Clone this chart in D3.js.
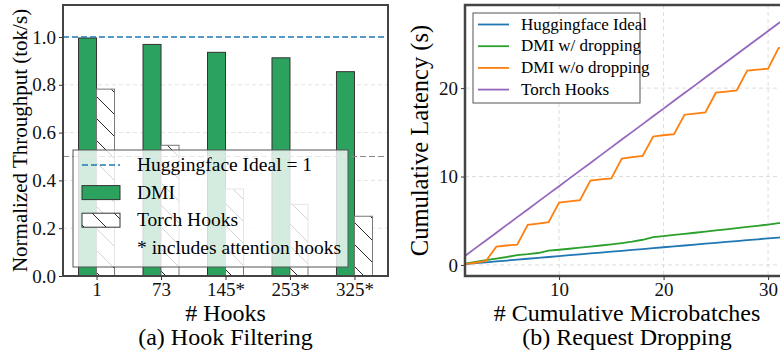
<!DOCTYPE html>
<html>
<head>
<meta charset="utf-8">
<script src="https://cdn.jsdelivr.net/npm/d3@7"></script>
<style>
  body { margin: 0; background: #fff; }
  svg { display: block; }
</style>
</head>
<body>
<div id="chart"></div>
<script>
// (a) Hook Filtering
const hookLabels = ["1", "73", "145*", "253*", "325*"];
const dmiThroughput = [0.996, 0.969, 0.936, 0.913, 0.855];
const torchThroughput = [0.782, 0.547, 0.364, 0.300, 0.250];
const leftYTicks = [0.0, 0.2, 0.4, 0.6, 0.8, 1.0];

// (b) Request Dropping
const microbatches = [1, 2, 3, 4, 5, 6, 7, 8, 9, 10, 11, 12, 13, 14, 15, 16,
  17, 18, 19, 20, 21, 22, 23, 24, 25, 26, 27, 28, 29, 30, 31, 32];
const hfIdeal = [0.10, 0.20, 0.30, 0.40, 0.50, 0.60, 0.70, 0.80, 0.90, 1.00, 1.10, 1.20,
  1.30, 1.40, 1.50, 1.60, 1.70, 1.80, 1.90, 2.00, 2.10, 2.20, 2.30, 2.40, 2.50, 2.60,
  2.70, 2.80, 2.90, 3.00, 3.10, 3.20];
const dmiDrop = [0.15, 0.35, 0.55, 0.72, 0.90, 1.12, 1.22, 1.35, 1.62, 1.72, 1.83, 1.95,
  2.07, 2.20, 2.33, 2.48, 2.63, 2.85, 3.15, 3.27, 3.40, 3.52, 3.64, 3.76, 3.90, 4.03,
  4.16, 4.30, 4.43, 4.57, 4.72, 4.86];
const dmiNoDrop = [0.10, 0.25, 0.45, 2.07, 2.20, 2.30, 4.53, 4.68, 4.83, 7.06, 7.19, 7.32,
  9.55, 9.68, 9.80, 12.04, 12.19, 12.34, 14.53, 14.67, 14.80, 16.99, 17.12, 17.25,
  19.48, 19.61, 19.74, 21.97, 22.09, 22.20, 24.54, 24.68];
const torchHooks = [1.02, 1.90, 2.77, 3.65, 4.53, 5.41, 6.28, 7.16, 8.04, 8.91, 9.79, 10.67,
  11.54, 12.42, 13.30, 14.18, 15.05, 15.93, 16.81, 17.68, 18.56, 19.44, 20.31, 21.19,
  22.07, 22.95, 23.82, 24.70, 25.58, 26.45, 27.33, 28.21];
const rightXTicks = [10, 20, 30];
const rightYTicks = [0, 10, 20];

const W = 780, H = 358;
const FONT = '"Liberation Serif"';
const svg = d3.select("#chart").append("svg").attr("width", W).attr("height", H);

const defs = svg.append("defs");
const hatch = defs.append("pattern")
  .attr("id", "hatch").attr("patternUnits", "userSpaceOnUse")
  .attr("width", 22).attr("height", 22);
hatch.append("rect").attr("width", 22).attr("height", 22).attr("fill", "#fff");
hatch.append("path")
  .attr("d", "M-2,-2L24,24M-2,20L2,24M20,-2L24,2")
  .attr("stroke", "#111").attr("stroke-width", 0.9);

const green = "#2ca25f";

// ---------- left panel ----------
const L = { left: 63, right: 388, top: 5, bottom: 276 };
const x0 = d3.scalePoint().domain(hookLabels).range([L.left, L.right]).padding(0.52);
const y0 = d3.scaleLinear().domain([0, 1.134]).range([L.bottom, L.top]);
const bw = 18;

const gl = svg.append("g");
gl.append("g").selectAll("line").data(leftYTicks.filter(d => d > 0 && d < 1))
  .join("line")
  .attr("x1", L.left).attr("x2", L.right)
  .attr("y1", d => y0(d)).attr("y2", d => y0(d))
  .attr("stroke", "#e3e3e3").attr("stroke-dasharray", "4,3");

gl.append("g").selectAll("rect").data(dmiThroughput).join("rect")
  .attr("x", (d, i) => x0(hookLabels[i]) - bw)
  .attr("y", d => y0(d)).attr("width", bw).attr("height", d => y0(0) - y0(d))
  .attr("fill", green).attr("stroke", "#333").attr("stroke-width", 1);

gl.append("g").selectAll("rect").data(torchThroughput).join("rect")
  .attr("x", (d, i) => x0(hookLabels[i]))
  .attr("y", d => y0(d)).attr("width", bw).attr("height", d => y0(0) - y0(d))
  .attr("fill", "url(#hatch)").attr("stroke", "#777").attr("stroke-width", 1);

// reference lines
gl.append("line").attr("x1", L.left).attr("x2", L.right)
  .attr("y1", y0(1)).attr("y2", y0(1))
  .attr("stroke", "#1f77b4").attr("stroke-width", 1.6).attr("stroke-dasharray", "6,3");
gl.append("line").attr("x1", L.left).attr("x2", L.right)
  .attr("y1", y0(0.5)).attr("y2", y0(0.5))
  .attr("stroke", "#888").attr("stroke-width", 1.2).attr("stroke-dasharray", "6,3");

// legend (semi-transparent)
const lg = gl.append("g").attr("transform", "translate(73,150)");
lg.append("rect").attr("width", 275).attr("height", 117)
  .attr("fill", "#fff").attr("fill-opacity", 0.8).attr("stroke", "#555").attr("stroke-width", 1);
const legL = [
  { type: "dash", label: "Huggingface Ideal = 1" },
  { type: "dmi", label: "DMI" },
  { type: "torch", label: "Torch Hooks" },
  { type: "none", label: "* includes attention hooks" }
];
legL.forEach((e, i) => {
  const cy = 15 + i * 27.6;
  if (e.type === "dash") {
    lg.append("line").attr("x1", 9).attr("x2", 47).attr("y1", cy).attr("y2", cy)
      .attr("stroke", "#1f77b4").attr("stroke-width", 1.6).attr("stroke-dasharray", "6,3");
  } else if (e.type === "dmi") {
    lg.append("rect").attr("x", 9).attr("y", cy - 7).attr("width", 38).attr("height", 14)
      .attr("fill", green).attr("stroke", "#333");
  } else if (e.type === "torch") {
    lg.append("rect").attr("x", 9).attr("y", cy - 7).attr("width", 38).attr("height", 14)
      .attr("fill", "url(#hatch)").attr("stroke", "#333");
  }
  lg.append("text").attr("x", 64).attr("y", cy + 6).attr("font-size", 19.5).text(e.label);
});

// axes
const axL = gl.append("g").attr("transform", `translate(${L.left},0)`)
  .call(d3.axisLeft(y0).tickValues(leftYTicks).tickFormat(d3.format(".1f")).tickSize(4).tickPadding(3));
const axB = gl.append("g").attr("transform", `translate(0,${L.bottom})`)
  .call(d3.axisBottom(x0).tickSize(4).tickPadding(3));
[axL, axB].forEach(a => {
  a.select(".domain").remove();
  a.selectAll("text").attr("font-size", 19).attr("fill", "#111");
  a.selectAll("line").attr("stroke", "#333");
});
gl.append("rect").attr("x", L.left).attr("y", L.top)
  .attr("width", L.right - L.left).attr("height", L.bottom - L.top)
  .attr("fill", "none").attr("stroke", "#444").attr("stroke-width", 2);

gl.append("text").attr("transform", `translate(27,${(L.top + L.bottom) / 2}) rotate(-90)`)
  .attr("text-anchor", "middle").attr("font-size", 21).text("Normalized Throughput (tok/s)");
gl.append("text").attr("x", (L.left + L.right) / 2).attr("y", 320.5)
  .attr("text-anchor", "middle").attr("font-size", 24).text("# Hooks");
gl.append("text").attr("x", (L.left + L.right) / 2).attr("y", 344.5)
  .attr("text-anchor", "middle").attr("font-size", 24).text("(a) Hook Filtering");

// ---------- right panel ----------
const R = { left: 465, right: 789, top: 5, bottom: 276 };
const x1 = d3.scaleLinear().domain([1, 32]).range([R.left, R.right]);
const y1 = d3.scaleLinear().domain([-1.25, 29.4]).range([R.bottom, R.top]);

const gr = svg.append("g");
defs.append("clipPath").attr("id", "clipR").append("rect")
  .attr("x", R.left).attr("y", R.top).attr("width", R.right - R.left).attr("height", R.bottom - R.top);

gr.append("g").selectAll("line").data(rightXTicks).join("line")
  .attr("x1", d => x1(d)).attr("x2", d => x1(d)).attr("y1", R.top).attr("y2", R.bottom)
  .attr("stroke", "#ddd").attr("stroke-dasharray", "4,3");
gr.append("g").selectAll("line").data(rightYTicks).join("line")
  .attr("x1", R.left).attr("x2", R.right).attr("y1", d => y1(d)).attr("y2", d => y1(d))
  .attr("stroke", "#ddd").attr("stroke-dasharray", "4,3");

const seriesR = [
  { label: "Huggingface Ideal", values: hfIdeal, color: "#1f77b4" },
  { label: "DMI w/ dropping", values: dmiDrop, color: "#2ca02c" },
  { label: "DMI w/o dropping", values: dmiNoDrop, color: "#ff7f0e" },
  { label: "Torch Hooks", values: torchHooks, color: "#9467bd" }
];
const line = d3.line().x(d => x1(d[0])).y(d => y1(d[1]));
gr.append("g").attr("clip-path", "url(#clipR)").selectAll("path").data(seriesR).join("path")
  .attr("d", s => line(microbatches.map((m, i) => [m, s.values[i]])))
  .attr("fill", "none").attr("stroke", s => s.color).attr("stroke-width", 1.8);

const axRL = gr.append("g").attr("transform", `translate(${R.left},0)`)
  .call(d3.axisLeft(y1).tickValues(rightYTicks).tickSize(4).tickPadding(3));
const axRB = gr.append("g").attr("transform", `translate(0,${R.bottom})`)
  .call(d3.axisBottom(x1).tickValues(rightXTicks).tickSize(4).tickPadding(3));
[axRL, axRB].forEach(a => {
  a.select(".domain").remove();
  a.selectAll("text").attr("font-size", 19).attr("fill", "#111");
  a.selectAll("line").attr("stroke", "#333");
});
gr.append("rect").attr("x", R.left).attr("y", R.top)
  .attr("width", R.right - R.left).attr("height", R.bottom - R.top)
  .attr("fill", "none").attr("stroke", "#444").attr("stroke-width", 2.5);

// legend
const lgR = gr.append("g").attr("transform", "translate(473,13)");
lgR.append("rect").attr("width", 167).attr("height", 90)
  .attr("fill", "#fff").attr("fill-opacity", 0.8).attr("stroke", "#555").attr("stroke-width", 1);
seriesR.forEach((s, i) => {
  const cy = 11.5 + i * 21.7;
  lgR.append("line").attr("x1", 5).attr("x2", 36).attr("y1", cy).attr("y2", cy)
    .attr("stroke", s.color).attr("stroke-width", 1.8);
  lgR.append("text").attr("x", 48).attr("y", cy + 5).attr("font-size", 17).text(s.label);
});

gr.append("text").attr("transform", `translate(428,${(R.top + R.bottom) / 2}) rotate(-90)`)
  .attr("text-anchor", "middle").attr("font-size", 24.5).text("Cumulative Latency (s)");
gr.append("text").attr("x", (R.left + R.right) / 2).attr("y", 320.5)
  .attr("text-anchor", "middle").attr("font-size", 24).text("# Cumulative Microbatches");
gr.append("text").attr("x", (R.left + R.right) / 2).attr("y", 344.5)
  .attr("text-anchor", "middle").attr("font-size", 24).text("(b) Request Dropping");

// serif everywhere
svg.selectAll("g").attr("font-family", null);
svg.selectAll("text").style("font-family", FONT);
</script>
</body>
</html>
